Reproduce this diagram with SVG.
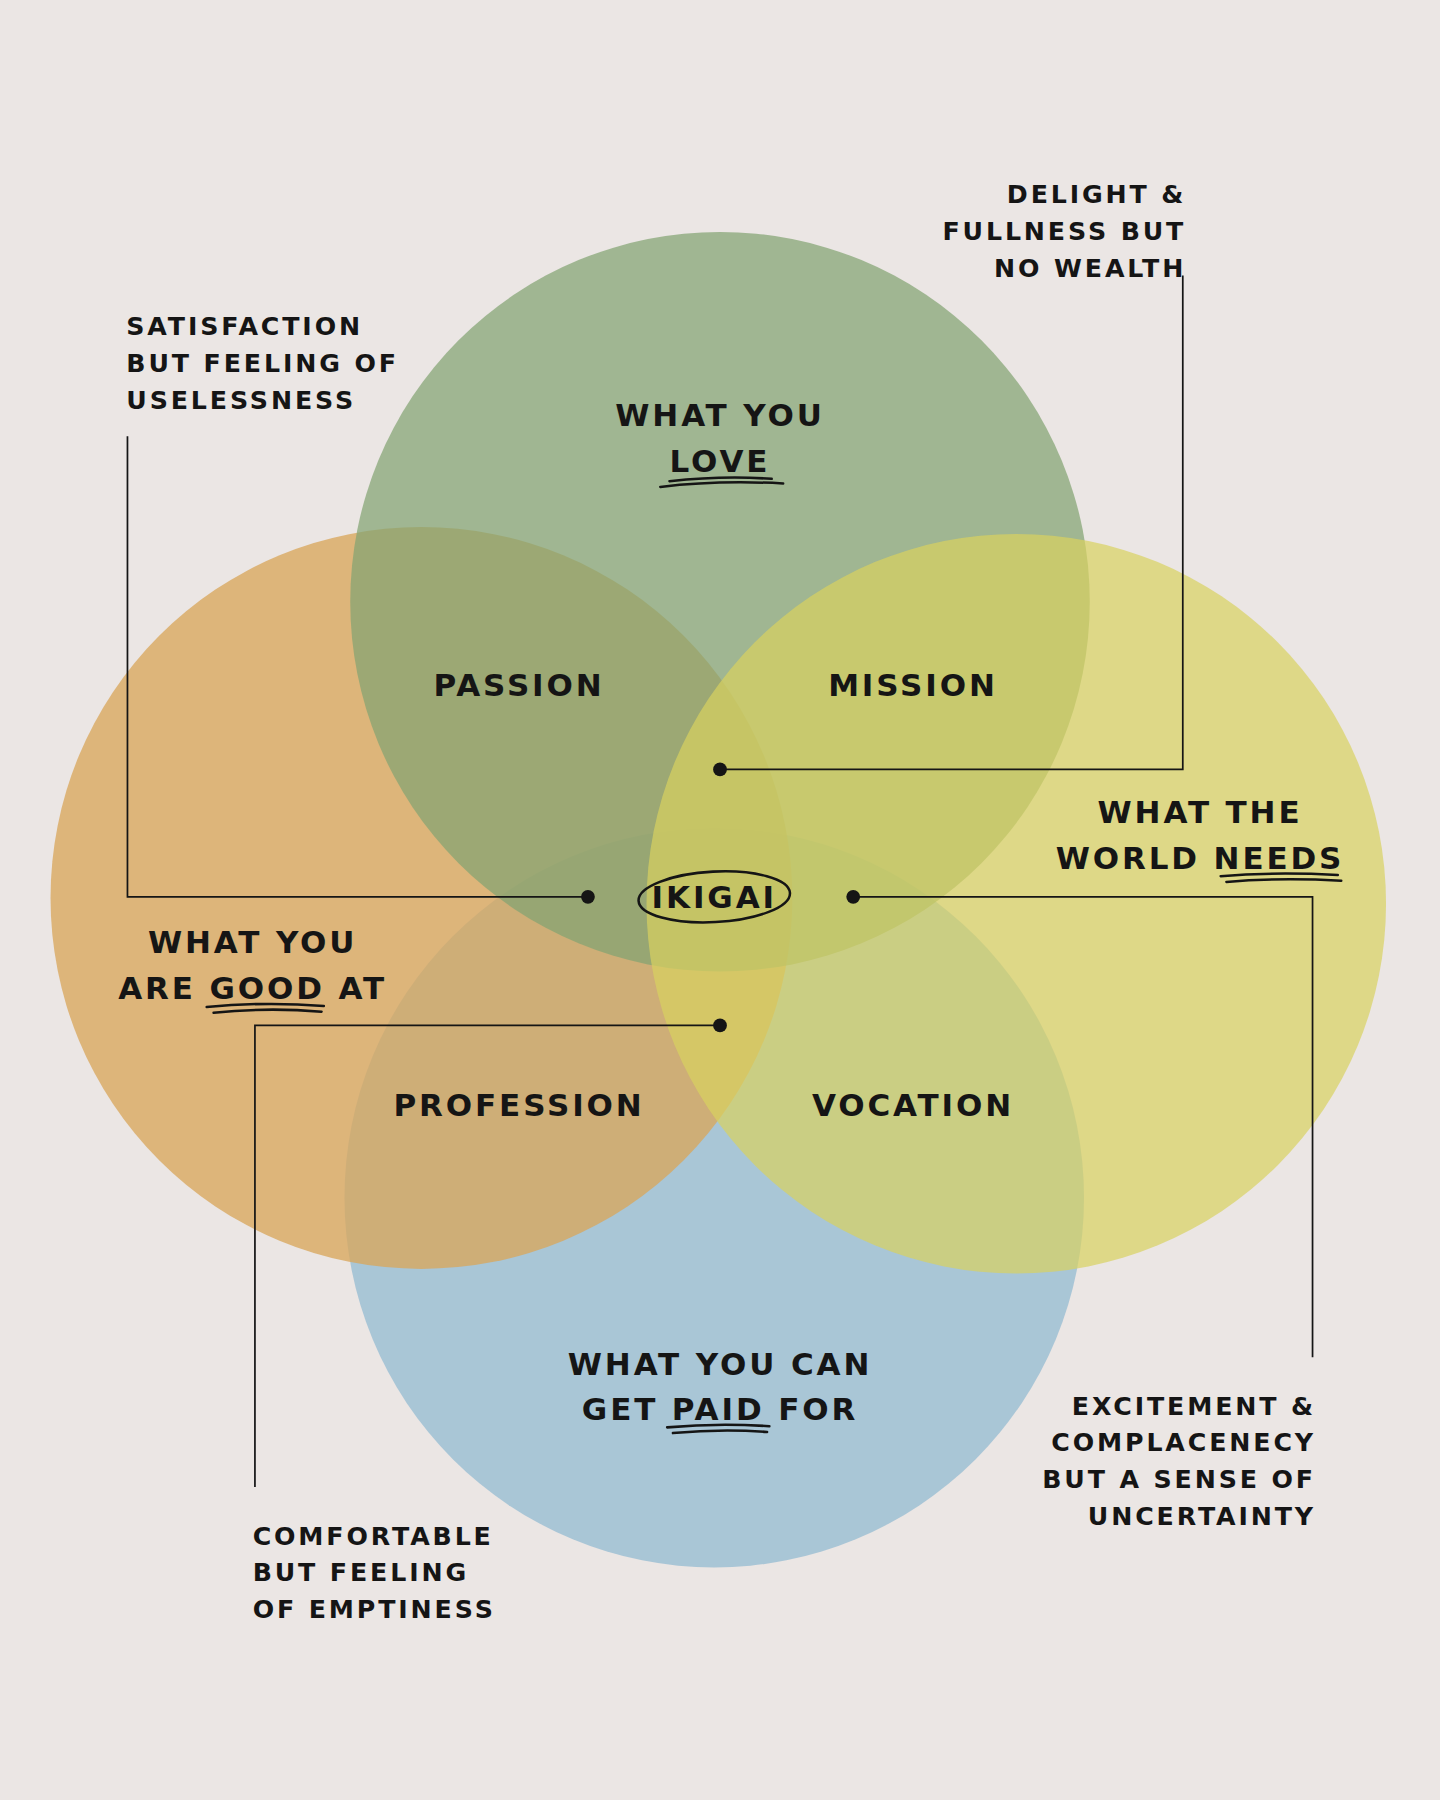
<svg xmlns="http://www.w3.org/2000/svg" width="1440" height="1800" viewBox="0 0 1440 1800">
<style>
.t{font-family:"DejaVu Sans",sans-serif;font-weight:bold;fill:#151515;letter-spacing:2.5px}
.l{font-size:27px}
.a{font-size:22px}
.ln{fill:none;stroke:#151515;stroke-width:1.5}
.ul{fill:none;stroke:#151515;stroke-width:2.2;stroke-linecap:round}
</style>
<rect width="1440" height="1800" fill="#ebe6e4"/>
<g transform="scale(1.14833)">
<g id="circles">
<circle id="paid" cx="622" cy="1043" r="322" fill="#9dbfd4" opacity="0.85"/>
<circle id="good" cx="367" cy="782" r="323" fill="#d8a65c" opacity="0.78"/>
<circle id="love" cx="627" cy="524" r="322" fill="#82a472" opacity="0.72"/>
<circle id="needs" cx="885" cy="787" r="322" fill="#d8d260" opacity="0.7"/>
</g>
<g id="connectors">
<polyline class="ln" points="512,781 111,781 111,380"/>
<polyline class="ln" points="627,670 1030,670 1030,240"/>
<polyline class="ln" points="743,781 1143,781 1143,1182"/>
<polyline class="ln" points="627,893 222,893 222,1295"/>
<circle cx="512" cy="781" r="6" fill="#151515"/>
<circle cx="627" cy="670" r="6" fill="#151515"/>
<circle cx="743" cy="781" r="6" fill="#151515"/>
<circle cx="627" cy="893" r="6" fill="#151515"/>
</g>
<g id="labels" text-anchor="middle">
<text class="t l" x="627" y="371">WHAT YOU</text>
<text class="t l" x="627" y="411">LOVE</text>
<path class="ul" d="M583,419 Q630,414 672,417 M575,424 Q625,418 682,421"/>
<text class="t l" x="452" y="606">PASSION</text>
<text class="t l" x="795" y="606">MISSION</text>
<text class="t l" x="1045" y="717">WHAT THE</text>
<text class="t l" x="1045" y="757">WORLD NEEDS</text>
<path class="ul" d="M1063,763 Q1110,759 1165,762 M1068,768 Q1115,764 1168,767"/>
<text class="t l" x="220" y="830">WHAT YOU</text>
<text class="t l" x="220" y="870">ARE GOOD AT</text>
<path class="ul" d="M180,877 Q230,872 282,876 M186,882 Q232,877 280,881"/>
<text class="t l" x="622" y="791">IKIGAI</text>
<ellipse cx="622" cy="781" rx="66" ry="22" fill="none" stroke="#151515" stroke-width="2.2" transform="rotate(-3 622 781)"/>
<text class="t l" x="452" y="972">PROFESSION</text>
<text class="t l" x="795" y="972">VOCATION</text>
<text class="t l" x="627" y="1197">WHAT YOU CAN</text>
<text class="t l" x="627" y="1237">GET PAID FOR</text>
<path class="ul" d="M581,1243 Q625,1239 670,1242 M586,1248 Q628,1244 668,1247"/>
</g>
<g id="annotations">
<text class="t a" x="110" y="292">SATISFACTION</text>
<text class="t a" x="110" y="324">BUT FEELING OF</text>
<text class="t a" x="110" y="356">USELESSNESS</text>
<g text-anchor="end">
<text class="t a" x="1033" y="177">DELIGHT &amp;</text>
<text class="t a" x="1033" y="209">FULLNESS BUT</text>
<text class="t a" x="1033" y="241">NO WEALTH</text>
<text class="t a" x="1146" y="1232">EXCITEMENT &amp;</text>
<text class="t a" x="1146" y="1264">COMPLACENECY</text>
<text class="t a" x="1146" y="1296">BUT A SENSE OF</text>
<text class="t a" x="1146" y="1328">UNCERTAINTY</text>
</g>
<text class="t a" x="220" y="1345">COMFORTABLE</text>
<text class="t a" x="220" y="1377">BUT FEELING</text>
<text class="t a" x="220" y="1409">OF EMPTINESS</text>
</g>
</g>
</svg>
